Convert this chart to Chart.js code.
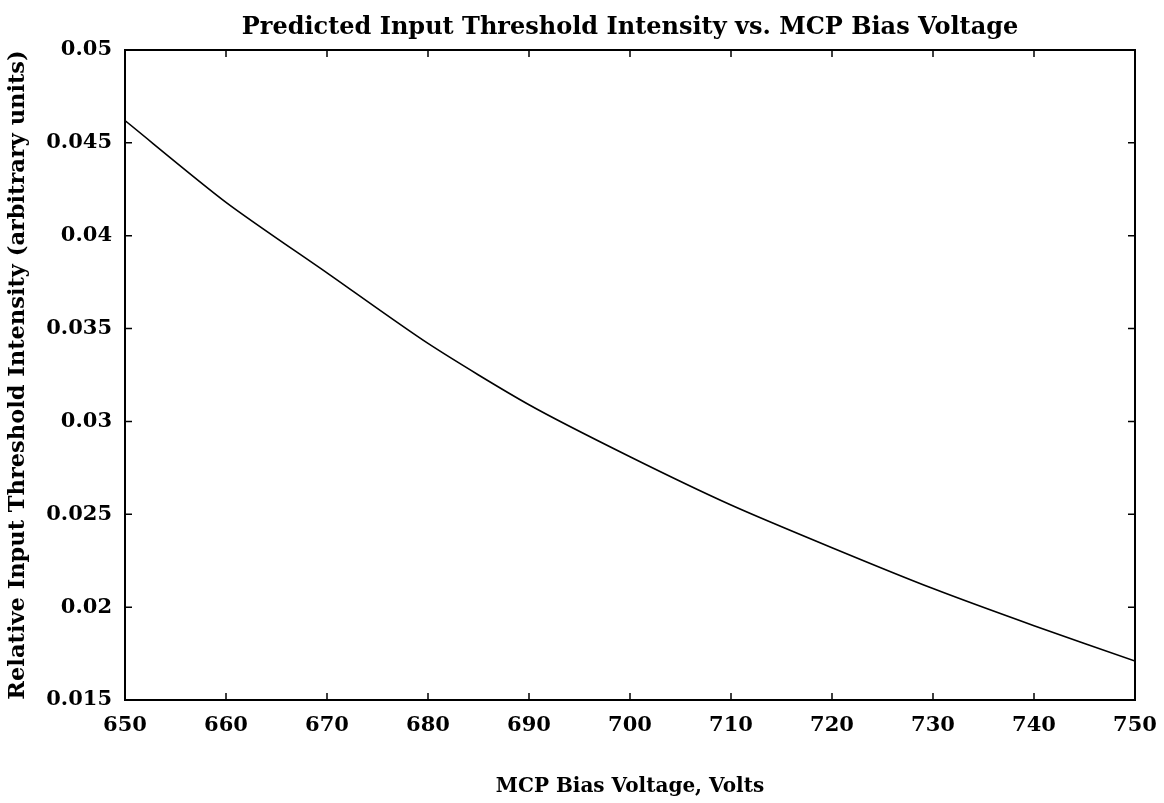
<!DOCTYPE html>
<html><head><meta charset="utf-8">
<script src="https://cdn.jsdelivr.net/npm/chart.js@4/dist/chart.umd.min.js"></script>
<style>html,body{margin:0;padding:0;background:#fff}#wrap{width:1164px;height:803px}</style>
</head><body><div id="wrap"><canvas id="c" width="1164" height="803"></canvas></div>
<script>
const voltages = [650, 660, 670, 680, 690, 700, 710, 720, 730, 740, 750];
const intensity = [0.0462, 0.0418, 0.0380, 0.0342, 0.0309, 0.0281, 0.0255, 0.0232, 0.0210, 0.0190, 0.0171];
const xTicks = [650, 660, 670, 680, 690, 700, 710, 720, 730, 740, 750];
const yTicks = [0.015, 0.02, 0.025, 0.03, 0.035, 0.04, 0.045, 0.05];
const titleText = 'Predicted Input Threshold Intensity vs. MCP Bias Voltage';
const xTitle = 'MCP Bias Voltage, Volts';
const yTitle = 'Relative Input Threshold Intensity (arbitrary units)';

const FONT = "'DejaVu Serif', 'Liberation Serif', serif";

const framePlugin = {
  id: 'frame',
  afterDatasetsDraw(chart) {
    const {ctx, chartArea: a, scales} = chart;
    ctx.save();
    ctx.strokeStyle = '#000';
    ctx.lineWidth = 2;
    ctx.strokeRect(a.left, a.top, a.right - a.left, a.bottom - a.top);
    ctx.lineWidth = 1.5;
    const L = 7;
    ctx.beginPath();
    xTicks.forEach(v => {
      const x = scales.x.getPixelForValue(v);
      ctx.moveTo(x, a.bottom); ctx.lineTo(x, a.bottom - L);
      ctx.moveTo(x, a.top); ctx.lineTo(x, a.top + L);
    });
    yTicks.forEach(v => {
      const y = scales.y.getPixelForValue(v);
      ctx.moveTo(a.left, y); ctx.lineTo(a.left + L, y);
      ctx.moveTo(a.right, y); ctx.lineTo(a.right - L, y);
    });
    ctx.stroke();
    ctx.restore();
  }
};

new Chart(document.getElementById('c'), {
  type: 'line',
  data: {
    datasets: [{
      data: voltages.map((v, i) => ({x: v, y: intensity[i]})),
      borderColor: '#000',
      borderWidth: 1.6,
      pointRadius: 0,
      tension: 0.25,
      fill: false
    }]
  },
  options: {
    responsive: false,
    animation: false,
    devicePixelRatio: 1,
    layout: {padding: {left: 0, right: 29, top: 0, bottom: 0}},
    plugins: {
      legend: {display: false},
      tooltip: {enabled: false},
      title: {
        display: true,
        fullSize: false,
        text: titleText,
        color: '#000',
        font: {family: FONT, size: 24, weight: 'bold'},
        padding: {top: 13.6, bottom: 7.6}
      }
    },
    scales: {
      x: {
        type: 'linear',
        min: 650, max: 750,
        afterBuildTicks: s => { s.ticks = xTicks.map(v => ({value: v})); },
        afterFit: s => { s.height = 103; s.paddingLeft = 0; s.paddingRight = 0; },
        grid: {display: false, drawTicks: false},
        border: {display: false},
        ticks: {color: '#000', padding: 13, font: {family: FONT, size: 21, weight: 'bold'}, maxRotation: 0},
        title: {display: true, text: xTitle, color: '#000', padding: {top: 0, bottom: 4}, font: {family: FONT, size: 20, weight: 'bold'}}
      },
      y: {
        type: 'linear',
        min: 0.015, max: 0.05,
        afterBuildTicks: s => { s.ticks = yTicks.map(v => ({value: v})); },
        afterFit: s => { s.width = 125; },
        grid: {display: false, drawTicks: false},
        border: {display: false},
        ticks: {
          color: '#000', padding: 13, font: {family: FONT, size: 21, weight: 'bold'},
          callback: v => Number(v).toFixed(3).replace(/0+$/, '')
        },
        title: {display: true, text: yTitle, color: '#000', padding: {top: 5, bottom: 0}, font: {family: FONT, size: 22.5, weight: 'bold'}}
      }
    }
  },
  plugins: [framePlugin]
});
</script>
</body></html>
